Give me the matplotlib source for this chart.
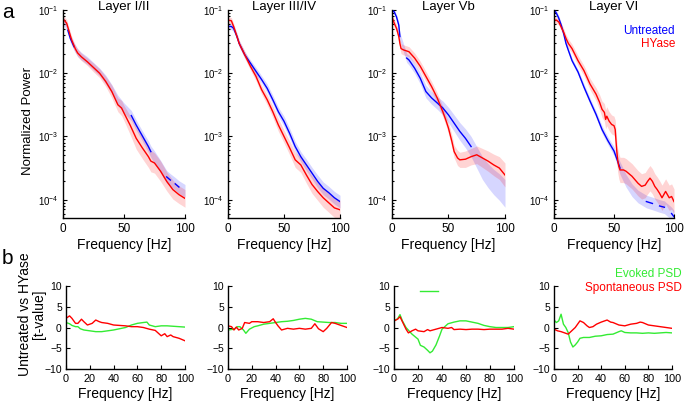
import numpy as np
import matplotlib
matplotlib.use("Agg")
import matplotlib.pyplot as plt

plt.rcParams['font.family'] = ['Liberation Sans', 'DejaVu Sans']

layers = ["Layer I/II", "Layer III/IV", "Layer Vb", "Layer VI"]

# ---- top row: normalized power (log10 units), mean and band half-width ----
# Layer I/II
f1_red = [0, 1, 3, 5, 7, 10, 12, 15, 20, 25, 30, 35, 40, 45, 48, 50, 55, 60, 65, 70, 72, 75, 80, 85, 90, 95, 100]
p1_red = [-1.15, -1.16, -1.21, -1.34, -1.47, -1.61, -1.68, -1.74, -1.82, -1.91, -2.00, -2.13, -2.29, -2.50, -2.55,
          -2.63, -2.82, -3.03, -3.18, -3.32, -3.39, -3.42, -3.55, -3.71, -3.84, -3.92, -3.98]
w1_red = [0.06, 0.06, 0.06, 0.06, 0.06, 0.06, 0.06, 0.06, 0.06, 0.07, 0.07, 0.08, 0.1, 0.11, 0.12,
          0.12, 0.15, 0.17, 0.17, 0.17, 0.17, 0.16, 0.16, 0.15, 0.15, 0.14, 0.14]
f1_blue = [0, 2, 4, 6, 9, 12, 15, 20, 25, 30, 35, 40, 45, 50, 56, 60, 65, 70, 72, 75, 80, 85, 88, 90, 92, 95, 100]
p1_blue = [-1.18, -1.22, -1.32, -1.45, -1.58, -1.67, -1.73, -1.80, -1.89, -1.98, -2.10, -2.25, -2.43, -2.55, -2.67,
           -2.82, -2.99, -3.16, -3.24, -3.33, -3.48, -3.64, -3.69, -3.72, -3.75, -3.80, -3.86]
w1_blue = [0.06, 0.06, 0.06, 0.06, 0.06, 0.06, 0.06, 0.06, 0.06, 0.06, 0.07, 0.07, 0.08, 0.08, 0.08,
           0.08, 0.08, 0.09, 0.09, 0.1, 0.1, 0.1, 0.1, 0.1, 0.1, 0.1, 0.1]
v1_blue = [(4, 9), (56, 72), (85, 88), (92, 95)]

# Layer III/IV
f2 = [0, 3, 5, 8, 10, 15, 20, 25, 30, 35, 40, 45, 50, 55, 60, 65, 70, 75, 80, 85, 90, 95, 100]
p2_red = [-1.16, -1.17, -1.26, -1.42, -1.53, -1.71, -1.89, -2.05, -2.26, -2.42, -2.61, -2.82, -3.00, -3.18,
          -3.37, -3.45, -3.61, -3.76, -3.87, -3.97, -4.05, -4.13, -4.16]
w2_red = [0.05, 0.05, 0.05, 0.05, 0.05, 0.06, 0.06, 0.07, 0.07, 0.08, 0.09, 0.1, 0.1, 0.11,
          0.12, 0.12, 0.13, 0.14, 0.14, 0.15, 0.15, 0.15, 0.15]
p2_blue = [-1.26, -1.26, -1.29, -1.42, -1.53, -1.71, -1.84, -1.97, -2.10, -2.24, -2.42, -2.61, -2.76, -2.95,
           -3.16, -3.32, -3.45, -3.58, -3.71, -3.82, -3.89, -3.97, -4.03]
w2_blue = [0.05, 0.05, 0.05, 0.05, 0.05, 0.05, 0.05, 0.06, 0.06, 0.07, 0.07, 0.07, 0.08, 0.08,
           0.08, 0.08, 0.09, 0.09, 0.1, 0.1, 0.1, 0.1, 0.1]
v2_blue = [(0, 100)]

# Layer Vb
f3_red = [0, 2, 4, 6, 7, 8, 10, 15, 20, 25, 30, 35, 40, 45, 48, 50, 53, 55, 58, 60, 65, 70, 75, 80, 85, 90, 95, 100]
p3_red = [-1.11, -1.21, -1.29, -1.42, -1.53, -1.61, -1.63, -1.66, -1.76, -1.89, -2.05, -2.21, -2.39, -2.61, -2.76,
          -2.87, -3.08, -3.24, -3.34, -3.37, -3.36, -3.32, -3.29, -3.34, -3.39, -3.45, -3.50, -3.61]
w3_red = [0.06, 0.06, 0.06, 0.07, 0.08, 0.08, 0.08, 0.08, 0.08, 0.08, 0.08, 0.08, 0.08, 0.08, 0.08,
          0.09, 0.1, 0.1, 0.12, 0.12, 0.13, 0.13, 0.14, 0.15, 0.16, 0.17, 0.18, 0.19]
f3_blue = [0, 2, 4, 6, 7, 13, 15, 20, 25, 30, 35, 40, 45, 50, 55, 60, 65, 70, 75, 80, 85, 90, 95, 100]
p3_blue = [-1.00, -1.03, -1.11, -1.24, -1.42, -1.76, -1.79, -1.92, -2.08, -2.29, -2.39, -2.47, -2.55, -2.66,
           -2.79, -2.92, -3.03, -3.16, -3.33, -3.50, -3.62, -3.72, -3.80, -3.90]
w3_blue = [0.04, 0.04, 0.04, 0.05, 0.06, 0.07, 0.08, 0.08, 0.09, 0.1, 0.1, 0.1, 0.11, 0.12,
           0.13, 0.14, 0.15, 0.16, 0.17, 0.18, 0.19, 0.2, 0.21, 0.22]
v3_blue = [(0, 7), (13, 70)]

# Layer VI
f4_red = [0, 2, 4, 6, 8, 10, 12, 15, 20, 25, 30, 35, 38, 40, 42, 43, 44, 46, 48, 50, 51, 52, 53, 54, 55, 58, 60,
          65, 70, 73, 76, 78, 80, 82, 84, 86, 88, 90, 93, 96, 98, 100]
p4_red = [-1.16, -1.16, -1.19, -1.27, -1.35, -1.45, -1.53, -1.61, -1.80, -1.96, -2.17, -2.33, -2.46, -2.57, -2.62,
          -2.73, -2.68, -2.76, -2.81, -2.83, -2.89, -3.16, -3.37, -3.47, -3.53, -3.53, -3.55,
          -3.63, -3.74, -3.79, -3.77, -3.71, -3.66, -3.71, -3.79, -3.84, -3.90, -3.97, -3.87, -3.97, -3.95, -4.03]
w4_red = [0.05, 0.05, 0.05, 0.06, 0.06, 0.06, 0.07, 0.07, 0.08, 0.08, 0.09, 0.1, 0.12, 0.13, 0.14,
          0.15, 0.15, 0.15, 0.15, 0.15, 0.15, 0.17, 0.19, 0.2, 0.2, 0.2, 0.2,
          0.2, 0.2, 0.2, 0.2, 0.2, 0.2, 0.2, 0.2, 0.2, 0.2, 0.2, 0.2, 0.2, 0.2, 0.2]
f4_blue = [0, 2, 4, 6, 8, 10, 12, 15, 20, 25, 30, 35, 40, 45, 50, 53, 55, 60, 65, 70, 77, 82, 88, 92, 98, 100]
p4_blue = [-1.00, -1.05, -1.13, -1.24, -1.37, -1.53, -1.64, -1.80, -1.98, -2.22, -2.44, -2.65, -2.89, -3.07,
           -3.23, -3.39, -3.50, -3.70, -3.85, -3.95, -4.03, -4.06, -4.10, -4.12, -4.22, -4.27]
w4_blue = [0.04, 0.04, 0.04, 0.04, 0.04, 0.04, 0.04, 0.04, 0.04, 0.05, 0.05, 0.05, 0.06, 0.06,
           0.07, 0.08, 0.1, 0.1, 0.1, 0.1, 0.1, 0.1, 0.1, 0.1, 0.1, 0.1]
v4_blue = [(0, 55), (77, 82), (88, 92), (98, 100)]

# ---- bottom row: t-values ----
fb1_red = [0, 3, 5, 8, 10, 13, 15, 18, 22, 25, 28, 30, 35, 40, 45, 50, 55, 60, 65, 70, 75, 80, 83, 85, 88, 90, 95, 100]
tb1_red = [2.2, 2.8, 2.2, 1.0, 1.0, 2.0, 1.4, 0.6, 1.0, 1.8, 1.4, 1.2, 1.0, 0.6, 0.5, 0.4, 0.2, 0.2, 0.0, -0.4,
           -0.7, -2.0, -1.5, -2.2, -1.8, -2.2, -2.6, -3.2]
fb1_grn = [0, 3, 5, 8, 10, 12, 15, 20, 25, 30, 35, 40, 45, 50, 55, 60, 65, 68, 70, 75, 80, 85, 90, 95, 100]
tb1_grn = [1.2, 0.9, 0.5, 0.2, 0.2, -0.3, -0.6, -0.8, -1.0, -1.0, -0.8, -0.6, -0.3, 0.0, 0.6, 1.0, 1.2, 1.3,
           0.6, 0.2, 0.4, 0.4, 0.3, 0.2, 0.1]

fb2_red = [0, 3, 5, 7, 9, 12, 14, 18, 20, 25, 30, 35, 38, 40, 42, 45, 50, 55, 60, 65, 70, 73, 76, 80, 83, 87,
           90, 95, 100]
tb2_red = [0.4, 0.2, -0.6, 0.1, -0.6, -0.2, 1.2, 1.0, 1.4, 1.4, 1.2, 1.4, 2.1, 1.2, 0.4, -0.6, -0.2, -0.4, -0.2,
           -0.4, -0.2, 0.9, -0.3, -1.0, -0.2, 1.2, 1.0, 0.5, 0.0]
fb2_grn = [0, 5, 8, 10, 13, 15, 18, 22, 25, 30, 35, 40, 45, 50, 55, 60, 65, 70, 75, 80, 85, 90, 95, 100]
tb2_grn = [-0.6, -0.4, 0.2, 0.2, -0.6, -1.4, -0.4, 0.2, 0.4, 0.8, 1.0, 1.2, 1.4, 1.5, 1.7, 2.0, 2.2, 2.0, 1.4,
           1.3, 1.2, 1.2, 1.0, 1.0]

fb3_red = [0, 3, 5, 8, 10, 12, 15, 18, 20, 25, 28, 30, 35, 40, 45, 48, 50, 55, 60, 65, 70, 75, 80, 85, 90, 95, 100]
tb3_red = [1.6, 2.0, 2.6, 0.8, -0.4, -1.3, -0.8, -0.4, -0.8, -1.0, -0.5, -0.8, -0.4, 0.0, -0.2, 0.0, -0.5, -0.4,
           -0.5, -0.4, -0.4, -0.5, -0.4, -0.4, -0.4, -0.2, -0.4]
fb3_grn = [0, 3, 5, 7, 10, 15, 20, 22, 25, 28, 30, 32, 35, 38, 40, 45, 50, 55, 60, 65, 70, 75, 80, 85, 90, 95, 100]
tb3_grn = [1.6, 2.1, 3.1, 1.6, 0.0, -1.6, -2.8, -4.3, -4.7, -5.5, -6.1, -5.7, -4.2, -2.0, -0.4, 0.9, 1.3, 1.6,
           1.6, 1.3, 1.0, 0.5, 0.2, 0.0, 0.0, 0.0, 0.2]
sig3_f = [22, 37]
sig3_t = 8.7

fb4_red = [0, 3, 6, 9, 12, 15, 18, 20, 22, 25, 28, 30, 33, 36, 40, 45, 48, 50, 55, 60, 65, 70, 73, 75, 80, 85,
           90, 95, 100]
tb4_red = [-0.4, -0.8, -1.0, -1.3, -1.6, -0.8, 0.0, 0.8, 1.6, 1.2, 0.4, 0.0, 0.2, 0.8, 1.3, 1.8, 1.3, 1.2, 0.6,
           0.4, 0.8, 1.0, 1.3, 1.2, 0.6, 0.4, 0.2, 0.0, -0.2]
fb4_grn = [0, 2, 4, 6, 8, 10, 12, 14, 16, 18, 20, 22, 25, 30, 35, 40, 45, 50, 55, 57, 60, 65, 70, 75, 80, 85,
           90, 95, 100]
tb4_grn = [1.8, 1.2, 1.6, 3.2, 0.8, 0.0, -1.2, -3.5, -4.7, -4.2, -3.5, -2.6, -2.4, -2.4, -2.1, -2.0, -1.7, -1.6,
           -1.0, -0.8, -1.2, -1.3, -1.3, -1.4, -1.3, -1.4, -1.3, -1.2, -1.3]

BLUE = (0, 0, 1)
RED = (1, 0, 0)
GREEN = (0.2, 0.92, 0.2)

top_data = [
    (f1_red, p1_red, w1_red, f1_blue, p1_blue, w1_blue, v1_blue),
    (f2, p2_red, w2_red, f2, p2_blue, w2_blue, v2_blue),
    (f3_red, p3_red, w3_red, f3_blue, p3_blue, w3_blue, v3_blue),
    (f4_red, p4_red, w4_red, f4_blue, p4_blue, w4_blue, v4_blue),
]
bot_data = [
    (fb1_grn, tb1_grn, fb1_red, tb1_red),
    (fb2_grn, tb2_grn, fb2_red, tb2_red),
    (fb3_grn, tb3_grn, fb3_red, tb3_red),
    (fb4_grn, tb4_grn, fb4_red, tb4_red),
]

W, H = 685, 404
fig = plt.figure(figsize=(W / 100, H / 100), dpi=100)

top_x = [(63, 185), (228, 340), (392, 505), (554, 674)]
bot_x = [(66, 185), (228, 347), (394, 514), (554, 672)]


def style(ax):
    for s in ["top", "right"]:
        ax.spines[s].set_visible(False)
    for s in ["left", "bottom"]:
        ax.spines[s].set_linewidth(1.0)
    ax.tick_params(which="both", direction="in", width=0.8, pad=3.5)
    ax.tick_params(which="major", length=3)
    ax.tick_params(which="minor", length=1.5)


for i, (fr, pr, wr, fb, pb, wb, vis) in enumerate(top_data):
    x0, x1 = top_x[i]
    ax = fig.add_axes([x0 / W, 1 - 218 / H, (x1 - x0) / W, 208 / H])
    fr, pr, wr = np.array(fr), np.array(pr), np.array(wr)
    fb, pb, wb = np.array(fb), np.array(pb), np.array(wb)
    ax.fill_between(fb, 10 ** (pb - wb), 10 ** (pb + wb), color=BLUE, alpha=0.16, lw=0)
    ax.fill_between(fr, 10 ** (pr - wr), 10 ** (pr + wr), color=RED, alpha=0.17, lw=0)
    for a, b in vis:
        m = (fb >= a) & (fb <= b)
        ax.plot(fb[m], 10 ** pb[m], color=BLUE, lw=1.0)
    ax.plot(fr, 10 ** pr, color=RED, lw=1.0)
    ax.set_yscale("log")
    ax.set_ylim(10 ** -4.29, 0.1)
    ax.set_xlim(0, 100)
    ax.set_xticks([0, 50, 100])
    ax.set_yticks([1e-4, 1e-3, 1e-2, 1e-1])
    style(ax)
    ax.tick_params(axis="x", labelsize=8.5)
    ax.tick_params(axis="y", labelsize=7, pad=3)
    ax.text(0.5, 1.0, layers[i], transform=ax.transAxes, fontsize=9.5, ha="center", va="baseline")
    ax.set_xlabel("Frequency [Hz]", fontsize=10, labelpad=2)

for i, (fg, tg, fr, tr) in enumerate(bot_data):
    x0, x1 = bot_x[i]
    ax = fig.add_axes([x0 / W, 1 - 369 / H, (x1 - x0) / W, 83 / H])
    ax.plot(fg, tg, color=GREEN, lw=1.0)
    ax.plot(fr, tr, color=RED, lw=1.0)
    if i == 2:
        ax.plot(sig3_f, [sig3_t, sig3_t], color=GREEN, lw=1.0)
    ax.set_xlim(0, 100)
    ax.set_ylim(-10, 10)
    ax.set_xticks([0, 20, 40, 60, 80, 100])
    ax.set_yticks([-10, -5, 0, 5, 10])
    style(ax)
    ax.tick_params(axis="x", labelsize=7.8)
    ax.tick_params(axis="y", labelsize=7.5, pad=3)
    ax.set_xlabel("Frequency [Hz]", fontsize=10, labelpad=2)

fig.text(28 / W, 1 - 121 / H, "Normalized Power", fontsize=9.5, rotation=90, ha="center", va="center")
fig.text(32 / W, 1 - 314 / H, "Untreated vs HYase\n[t-value]", fontsize=10, rotation=90,
         ha="center", va="center", multialignment="center", linespacing=0.95)

fig.text(2 / W, 1 - 12 / H, "a", fontsize=15, va="center", ha="left")
fig.text(2 / W, 1 - 259 / H, "b", fontsize=15, va="center", ha="left")

fig.text(675 / W, 1 - 31 / H, "Untreated", color=BLUE, fontsize=8.5, ha="right", va="center")
fig.text(675 / W, 1 - 44 / H, "HYase", color=RED, fontsize=8.5, ha="right", va="center")
fig.text(682 / W, 1 - 274 / H, "Evoked PSD", color=GREEN, fontsize=8.5, ha="right", va="center")
fig.text(682 / W, 1 - 288 / H, "Spontaneous PSD", color=RED, fontsize=8.5, ha="right", va="center")

fig.savefig("out.png", dpi=100)
